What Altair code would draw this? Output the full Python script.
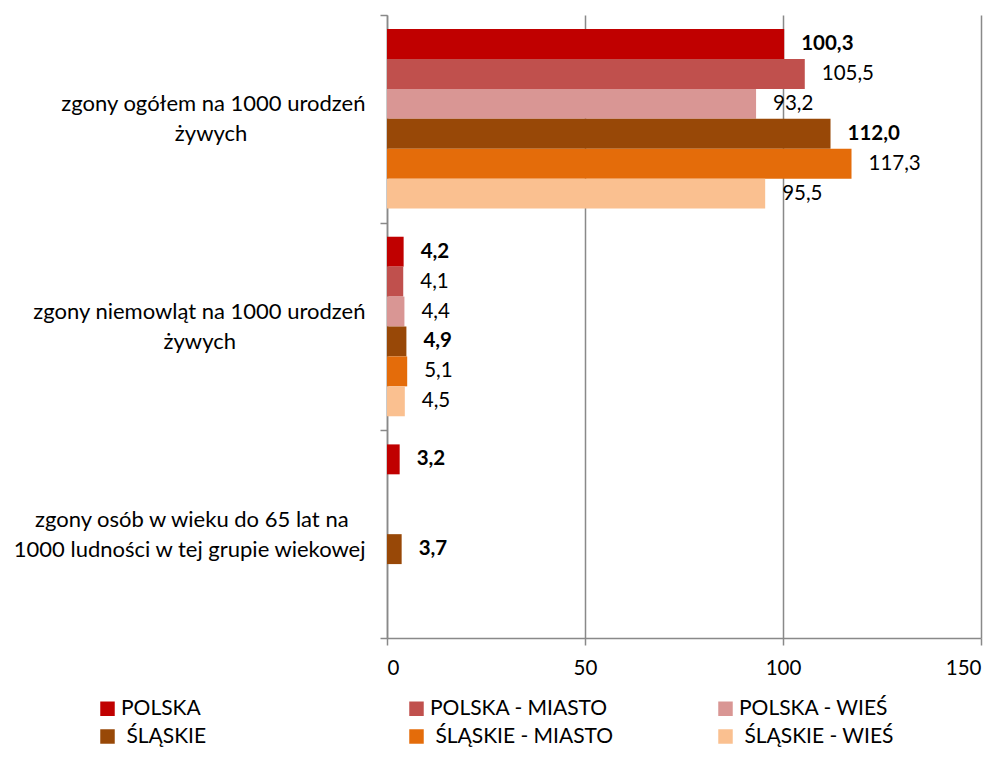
import altair as alt
import pandas as pd

NB = "\u00a0"
ZW = "\u200b"

categories = [
    "zgony ogółem na 1000 urodzeń\nżywych",
    "zgony niemowląt na 1000 urodzeń\nżywych",
    "zgony osób w wieku do 65 lat na\n1000 ludności w tej grupie wiekowej",
]
# axis label text (same words; non-breaking spaces only centre the shorter line)
category_labels = [
    "zgony ogółem na 1000 urodzeń\nżywych" + NB * 21 + ZW,
    "zgony niemowląt na 1000 urodzeń\nżywych" + NB * 23 + ZW,
    "zgony osób w wieku do 65 lat na" + NB * 3 + ZW + "\n1000 ludności w tej grupie wiekowej",
]
series = ["POLSKA", "POLSKA - MIASTO", "POLSKA - WIEŚ",
          "ŚLĄSKIE", "ŚLĄSKIE - MIASTO", "ŚLĄSKIE - WIEŚ"]
colors = ["#C00000", "#C0504D", "#D99694", "#984807", "#E46C0A", "#FAC090"]
bold_series = ["POLSKA", "ŚLĄSKIE"]

values_ogolem = [100.3, 105.5, 93.2, 112.0, 117.3, 95.5]
values_niemowlat = [4.2, 4.1, 4.4, 4.9, 5.1, 4.5]
values_do65 = [3.2, None, None, 3.7, None, None]

rows = []
for cat, lab, vals in zip(categories, category_labels,
                          [values_ogolem, values_niemowlat, values_do65]):
    for s, v in zip(series, vals):
        if v is None:
            continue
        rows.append({
            "cat": lab,
            "series": s,
            "value": v,
            "label": f"{v:.1f}".replace(".", ","),
            "bold": s in bold_series,
        })
df = pd.DataFrame(rows)

FONT = "Lato"
GRAY = "#898989"

y_enc = alt.Y(
    "cat:N",
    sort=category_labels,
    scale=alt.Scale(paddingInner=0, paddingOuter=0),
    axis=alt.Axis(
        title=None,
        labelExpr="split(datum.label, '\\n')",
        labelAlign="right",
        labelBaseline="middle",
        labelFont=FONT,
        labelFontSize=22,
        labelColor="#000000",
        labelLineHeight=30,
        labelLimit=600,
        labelPadding=15,
        labelOffset=-15,
        tickBand="extent",
        tickSize=7,
        tickColor=GRAY,
        tickWidth=1.5,
        domainColor=GRAY,
        domainWidth=1.5,
        grid=False,
    ),
)
yoff_enc = alt.YOffset(
    "series:N",
    sort=series,
    scale=alt.Scale(domain=series, paddingInner=0, paddingOuter=0.47),
)
x_enc = alt.X(
    "value:Q",
    scale=alt.Scale(domain=[0, 150], nice=False),
    axis=alt.Axis(
        title=None,
        values=[0, 50, 100, 150],
        labelFont=FONT,
        labelFontSize=20.5,
        labelColor="#000000",
        labelPadding=13,
        tickSize=7,
        tickColor=GRAY,
        tickWidth=1.5,
        domainColor=GRAY,
        domainWidth=1.5,
        grid=True,
        gridColor=GRAY,
        gridWidth=1.5,
    ),
)

bars = alt.Chart(df).mark_bar().encode(
    x=x_enc,
    y=y_enc,
    yOffset=yoff_enc,
    color=alt.Color(
        "series:N",
        sort=series,
        scale=alt.Scale(domain=series, range=colors),
        legend=alt.Legend(
            title=None,
            orient="none",
            legendX=-290,
            legendY=683,
            direction="horizontal",
            columns=3,
            gridAlign="all",
            columnPadding=101,
            rowPadding=6,
            padding=0,
            symbolType="square",
            symbolSize=210,
            symbolStrokeWidth=0,
            labelFont=FONT,
            labelFontSize=21,
            labelColor="#000000",
            labelOffset=3,
            labelLimit=400,
            labelExpr="indexof(datum.label, 'Ś') == 0 ? '\u200b\u00a0' + datum.label : datum.label",
        ),
    ),
)

text_normal = alt.Chart(df).transform_filter("!datum.bold").mark_text(
    align="left", baseline="middle", dx=17, font=FONT, fontSize=20.5, color="#000000"
).encode(x="value:Q", y=alt.Y("cat:N", sort=category_labels), yOffset=yoff_enc, text="label:N")

text_bold = alt.Chart(df).transform_filter("datum.bold").mark_text(
    align="left", baseline="middle", dx=17, font=FONT, fontSize=20.5, fontWeight="bold", color="#000000"
).encode(x="value:Q", y=alt.Y("cat:N", sort=category_labels), yOffset=yoff_enc, text="label:N")

chart = alt.layer(bars, text_normal, text_bold).properties(
    width=594,
    height=623,
    background="white",
    autosize=alt.AutoSizeParams(type="none"),
    padding={"left": 379, "top": 7, "right": 18, "bottom": 112},
).configure_view(stroke=None)

chart.save("out.html", embed_options={"renderer": "svg", "actions": False})
